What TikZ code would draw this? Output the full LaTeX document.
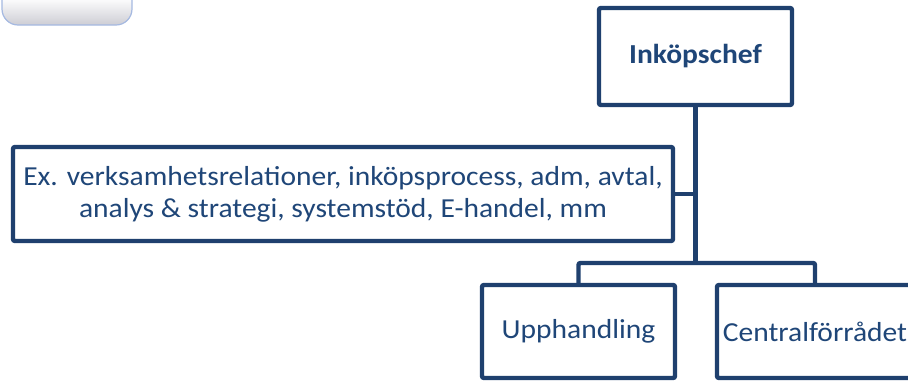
\documentclass[tikz,border=0pt]{standalone}
\usepackage{fontspec}
\setmainfont{Carlito}[FakeStretch=1.075]
\definecolor{orgline}{RGB}{31,64,110}
\definecolor{orgtext}{RGB}{31,70,120}
\definecolor{tabedge}{RGB}{165,185,225}
\definecolor{tabshade}{RGB}{205,205,212}
\tikzset{
  orgbox/.style={draw=orgline, line width=3.3pt, fill=white, rounded corners=1.5pt,
    text=orgtext, font=\fontsize{20.6}{23.8}\selectfont, inner sep=0pt, align=center},
  orglink/.style={draw=orgline, line width=3.3pt, rounded corners=1.5pt}
}
\begin{document}
\begin{tikzpicture}[x=0.75pt,y=-0.75pt]
\useasboundingbox (0,0) rectangle (908,383);
\begin{scope}
\clip (0,0) rectangle (908,383);
% decorative tab in the upper left corner
\shade[top color=white, bottom color=tabshade, middle color=white, draw=tabedge, line width=0.9pt,
  rounded corners=12pt] (2,-30) rectangle (132,25);
% boxes
\node[orgbox, minimum width=144.75pt, minimum height=72.75pt, font=\fontsize{20.6}{23.8}\selectfont\bfseries]
  (chef) at (695.5,56.5) {Inköpschef};
\node[orgbox, minimum width=495pt, minimum height=70.5pt]
  (staff) at (343,194) {Ex. verksamhetsrelationer, inköpsprocess, adm, avtal,\\analys \& strategi, systemstöd, E-handel, mm};
\node[orgbox, minimum width=144.75pt, minimum height=69.75pt] (upph) at (578.5,331.5) {Upphandling};
\node[orgbox, minimum width=147pt, minimum height=69.75pt] (cf) at (815,331.5) {Centralförrådet};
\coordinate (junc) at (695.5,263);
% connectors
\draw[orglink] (chef.south) -- (junc);
\draw[orglink] (upph.north) |- (junc) -| (cf.north);
\draw[orglink] (staff.east) -- (staff.east -| chef.south);
\end{scope}
\end{tikzpicture}
\end{document}
